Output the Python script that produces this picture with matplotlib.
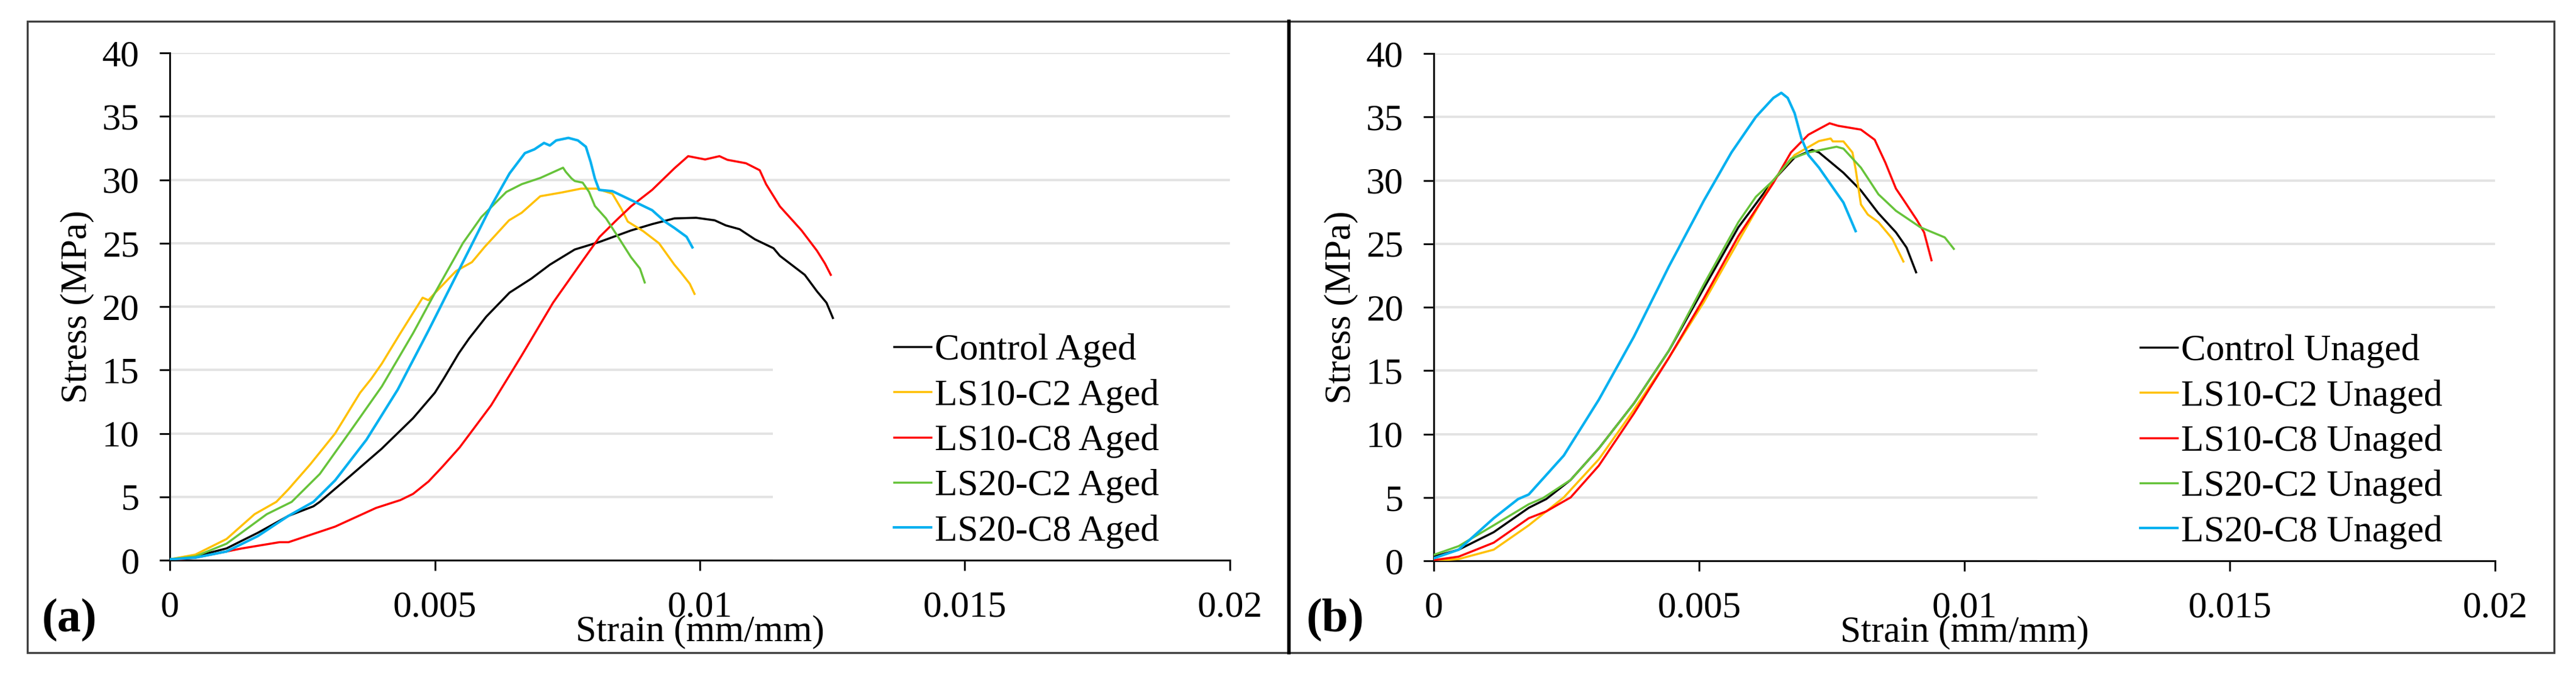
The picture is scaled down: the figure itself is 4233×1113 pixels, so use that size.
import matplotlib
matplotlib.use("Agg")
import matplotlib.pyplot as plt
from matplotlib.patches import Rectangle
from matplotlib.lines import Line2D

# ---------------- data ----------------
series_names = ["Control", "LS10-C2", "LS10-C8", "LS20-C2", "LS20-C8"]
series_colors = ["#000000", "#FFC000", "#FF0000", "#66C33A", "#00B0F0"]

x_ticks = [0, 0.005, 0.01, 0.015, 0.02]
x_tick_labels = ["0", "0.005", "0.01", "0.015", "0.02"]
y_ticks = [0, 5, 10, 15, 20, 25, 30, 35, 40]

# Panel (a): aged
aged_control_strain = [0, 0.00048, 0.00107, 0.00166, 0.00224, 0.00271, 0.00283, 0.00342, 0.0040, 0.00459,
                       0.0050, 0.00518, 0.00545, 0.00565, 0.00597, 0.00641, 0.00682, 0.00717, 0.00764, 0.00811, 0.0087,
                       0.0091, 0.00952, 0.00993, 0.01028, 0.01049, 0.01075, 0.01104, 0.01139, 0.01151, 0.01198,
                       0.01221, 0.01239, 0.01251]
aged_control_stress = [0.07, 0.3, 0.93, 2.16, 3.5, 4.25, 4.6, 6.7, 8.8, 11.2,
                       13.2, 14.4, 16.3, 17.5, 19.2, 21.1, 22.2, 23.3, 24.5, 25.1, 26.0,
                       26.5, 26.95, 27.0, 26.8, 26.4, 26.1, 25.3, 24.6, 24.0, 22.5,
                       21.2, 20.3, 19.1]

aged_ls10c2_strain = [0, 0.00048, 0.00107, 0.0016, 0.00201, 0.00224, 0.00265, 0.00312, 0.00359, 0.0038,
                      0.0040, 0.00435, 0.00477, 0.00488, 0.0050, 0.0054, 0.0057, 0.00594, 0.0064, 0.00664,
                      0.00699, 0.0074, 0.00776, 0.00805, 0.00835, 0.00852, 0.00864, 0.00893, 0.00923, 0.00952,
                      0.00964, 0.00981, 0.0099]
aged_ls10c2_stress = [0.07, 0.44, 1.67, 3.63, 4.6, 5.6, 7.56, 10.0, 13.2, 14.3,
                      15.5, 17.9, 20.7, 20.5, 21.06, 22.8, 23.5, 24.7, 26.8, 27.4,
                      28.7, 29.0, 29.3, 29.3, 28.9, 27.7, 26.7, 25.95, 24.99, 23.3,
                      22.7, 21.8, 21.0]

aged_ls10c8_strain = [0, 0.00048, 0.00136, 0.00207, 0.00224, 0.00312, 0.00389, 0.00435, 0.00459, 0.00488,
                      0.00515, 0.00547, 0.00606, 0.00664, 0.00723, 0.00782, 0.00811, 0.0084, 0.0087, 0.0091, 0.00952,
                      0.00978, 0.0101, 0.01037, 0.01052, 0.01087, 0.01113, 0.01125, 0.01151, 0.01192, 0.01221,
                      0.01236, 0.01247]
aged_ls10c8_stress = [0.0, 0.2, 0.93, 1.42, 1.42, 2.65, 4.12, 4.74, 5.23, 6.2,
                      7.4, 8.9, 12.2, 16.15, 20.3, 23.8, 25.5, 26.7, 27.9, 29.2, 30.9,
                      31.86, 31.6, 31.86, 31.57, 31.3, 30.75, 29.65, 27.9, 26.0, 24.4,
                      23.4, 22.5]

aged_ls20c2_strain = [0, 0.00048, 0.00107, 0.00183, 0.0023, 0.00283, 0.00342, 0.0040, 0.00459, 0.0050,
                      0.00553, 0.00588, 0.00635, 0.00664, 0.00699, 0.00742, 0.00747, 0.00758, 0.00764, 0.00779,
                      0.00791, 0.00802, 0.00823, 0.00846, 0.0087, 0.00887, 0.00896]
aged_ls20c2_stress = [0.07, 0.3, 1.3, 3.63, 4.6, 6.8, 10.26, 13.7, 17.9, 21.06,
                      25.0, 27.07, 29.04, 29.65, 30.14, 30.95, 30.63, 30.1, 29.9, 29.77,
                      29.04, 27.93, 26.95, 25.48, 23.9, 23.0, 21.9]

aged_ls20c8_strain = [0, 0.00048, 0.00107, 0.00166, 0.00224, 0.00271, 0.00312, 0.00371, 0.0043, 0.00488,
                      0.00547, 0.00606, 0.00641, 0.0067, 0.00688, 0.00706, 0.00717, 0.00729, 0.00752, 0.0077,
                      0.00785, 0.00794, 0.00802, 0.0081, 0.00835, 0.0087, 0.0091, 0.00934, 0.00952, 0.00975,
                      0.00986]
aged_ls20c8_stress = [0.07, 0.2, 0.69, 1.9, 3.5, 4.6, 6.3, 9.5, 13.45, 18.1,
                      23.0, 27.9, 30.5, 32.1, 32.4, 32.9, 32.7, 33.1, 33.3, 33.1,
                      32.6, 31.4, 30.1, 29.2, 29.1, 28.4, 27.6, 26.7, 26.2, 25.5,
                      24.67]

# Panel (b): unaged
unaged_control_strain = [0, 0.00047, 0.00113, 0.00179, 0.00212, 0.00258, 0.00311, 0.00377, 0.00443, 0.00509,
                         0.00574, 0.0064, 0.0068, 0.00713, 0.00726, 0.00772, 0.00805, 0.00838, 0.00871, 0.00891,
                         0.00909]
unaged_control_stress = [0.33, 0.88, 2.26, 4.18, 4.87, 6.38, 8.86, 12.4, 16.56, 21.5,
                         26.3, 30.0, 31.8, 32.4, 32.2, 30.6, 29.2, 27.4, 25.9, 24.7,
                         22.75]

unaged_ls10c2_strain = [0, 0.00047, 0.00113, 0.00179, 0.00245, 0.00311, 0.00377, 0.00443, 0.00509, 0.00574,
                        0.0064, 0.0068, 0.00726, 0.00748, 0.00752, 0.00772, 0.00789, 0.00795, 0.00805, 0.00818,
                        0.00838, 0.00864, 0.00885]
unaged_ls10c2_stress = [0.0, 0.14, 0.88, 2.8, 5.0, 8.0, 11.9, 16.0, 20.4, 25.2,
                        30.0, 32.0, 33.1, 33.3, 33.07, 33.07, 32.2, 30.9, 28.1, 27.3,
                        26.7, 25.4, 23.6]

unaged_ls10c8_strain = [0, 0.00047, 0.00113, 0.00179, 0.00212, 0.00258, 0.00311, 0.00377, 0.00443, 0.00509,
                        0.00574, 0.0064, 0.00673, 0.00706, 0.00746, 0.00762, 0.00805, 0.00831, 0.00851, 0.00871,
                        0.00891, 0.0091, 0.00924, 0.00938]
unaged_ls10c8_stress = [0.05, 0.33, 1.43, 3.36, 3.9, 5.0, 7.5, 11.6, 16.0, 20.7,
                        25.6, 29.8, 32.2, 33.6, 34.5, 34.3, 34.0, 33.2, 31.4, 29.35,
                        28.1, 26.9, 25.9, 23.7]

unaged_ls20c2_strain = [0, 0.00047, 0.00113, 0.00179, 0.00206, 0.00258, 0.00311, 0.00377, 0.00443, 0.00509,
                        0.00574, 0.00607, 0.0064, 0.00673, 0.00706, 0.00759, 0.00772, 0.00805, 0.00838, 0.00871,
                        0.00917, 0.00963, 0.0098]
unaged_ls20c2_stress = [0.47, 1.16, 2.8, 4.46, 4.95, 6.38, 8.86, 12.4, 16.56, 21.8,
                        26.7, 28.7, 30.0, 31.7, 32.2, 32.65, 32.5, 31.0, 28.9, 27.6,
                        26.3, 25.5, 24.6]

unaged_ls20c8_strain = [0, 0.00047, 0.00113, 0.00159, 0.00179, 0.00245, 0.00311, 0.00377, 0.00443, 0.00509,
                        0.00561, 0.00607, 0.0064, 0.00655, 0.00667, 0.0068, 0.00693, 0.00706, 0.00726, 0.00746,
                        0.00772, 0.00795]
unaged_ls20c8_stress = [0.2, 0.88, 3.36, 4.87, 5.23, 8.3, 12.7, 17.66, 23.2, 28.4,
                        32.2, 35.0, 36.5, 36.9, 36.5, 35.3, 33.3, 32.0, 31.0, 29.8,
                        28.25, 26.0]

aged_strain = [aged_control_strain, aged_ls10c2_strain, aged_ls10c8_strain, aged_ls20c2_strain, aged_ls20c8_strain]
aged_stress = [aged_control_stress, aged_ls10c2_stress, aged_ls10c8_stress, aged_ls20c2_stress, aged_ls20c8_stress]
unaged_strain = [unaged_control_strain, unaged_ls10c2_strain, unaged_ls10c8_strain, unaged_ls20c2_strain, unaged_ls20c8_strain]
unaged_stress = [unaged_control_stress, unaged_ls10c2_stress, unaged_ls10c8_stress, unaged_ls20c2_stress, unaged_ls20c8_stress]

# ---------------- figure ----------------
plt.rcParams['font.family'] = ['Liberation Serif', 'DejaVu Serif']
W, H = 4233, 1113
DPI = 200
fig = plt.figure(figsize=(W / DPI, H / DPI), dpi=DPI)
fig.patch.set_facecolor("white")

FS = 22


def style_axes(ax):
    ax.set_xlim(0, 0.02)
    ax.set_ylim(0, 40)
    ax.set_xticks(x_ticks)
    ax.set_xticklabels(x_tick_labels)
    ax.set_yticks(y_ticks)
    for s in ("top", "right"):
        ax.spines[s].set_visible(False)
    for s in ("left", "bottom"):
        ax.spines[s].set_linewidth(1.1)
        ax.spines[s].set_color("#111111")
    ax.set_axisbelow(True)
    ax.yaxis.grid(True, color="#e3e3e3", linewidth=1.4)
    ax.tick_params(direction="out", length=6, width=1.1, pad=12, labelsize=FS, color="#111111")
    ax.set_ylabel("Stress (MPa)", fontsize=FS)
    ax.yaxis.label.set_va("center")
    ax.yaxis.set_label_coords(-0.0873, 0.5)
    ax.set_xlabel("Strain (mm/mm)", fontsize=FS)
    ax.xaxis.label.set_va("center")
    ax.xaxis.set_label_coords(0.5, -0.1415)
    # white legend area hiding grid lines
    ax.add_patch(Rectangle((0.569, 0.0), 0.431, 0.47, transform=ax.transAxes,
                           facecolor="white", edgecolor="none", zorder=1.5))


axA = fig.add_axes([279 / W, 1 - 921 / H, (2021 - 279) / W, (921 - 87) / H])
axB = fig.add_axes([2356 / W, 1 - 922 / H, (4100 - 2356) / W, (922 - 88) / H])

for ax, strains, stresses, suffix, lx in (
        (axA, aged_strain, aged_stress, "Aged", 0.6831),
        (axB, unaged_strain, unaged_stress, "Unaged", 0.6657)):
    style_axes(ax)
    handles = []
    for name, col, xs, ys in zip(series_names, series_colors, strains, stresses):
        lw = 1.5 if col == "#00B0F0" else 1.25
        h, = ax.plot(xs, ys, color=col, linewidth=lw, zorder=3, label=f"{name} {suffix}")
        handles.append(h)
    ax.legend(handles=handles, loc="center left", bbox_to_anchor=(lx, 0.235),
              frameon=False, fontsize=FS, borderpad=0, borderaxespad=0,
              handlelength=1.0, handletextpad=0.1, labelspacing=0.3)

# panel borders
fig.add_artist(Rectangle((45 / W, 1 - 1073 / H), (2118 - 45) / W, (1073 - 35) / H,
                         transform=fig.transFigure, fill=False, edgecolor="#404040", linewidth=1.2))
fig.add_artist(Rectangle((2118 / W, 1 - 1073 / H), (4197 - 2118) / W, (1073 - 35) / H,
                         transform=fig.transFigure, fill=False, edgecolor="#404040", linewidth=1.2))
fig.add_artist(Line2D([2118 / W, 2118 / W], [1 - 1073 / H, 1 - 35 / H], transform=fig.transFigure,
                      color="black", linewidth=2.0))

fig.text(114 / W, 1 - 1020 / H, "(a)", fontsize=28, fontweight="bold", ha="center", va="center")
fig.text(2194 / W, 1 - 1020 / H, "(b)", fontsize=28, fontweight="bold", ha="center", va="center")

fig.savefig("out.png", dpi=DPI, facecolor="white")
